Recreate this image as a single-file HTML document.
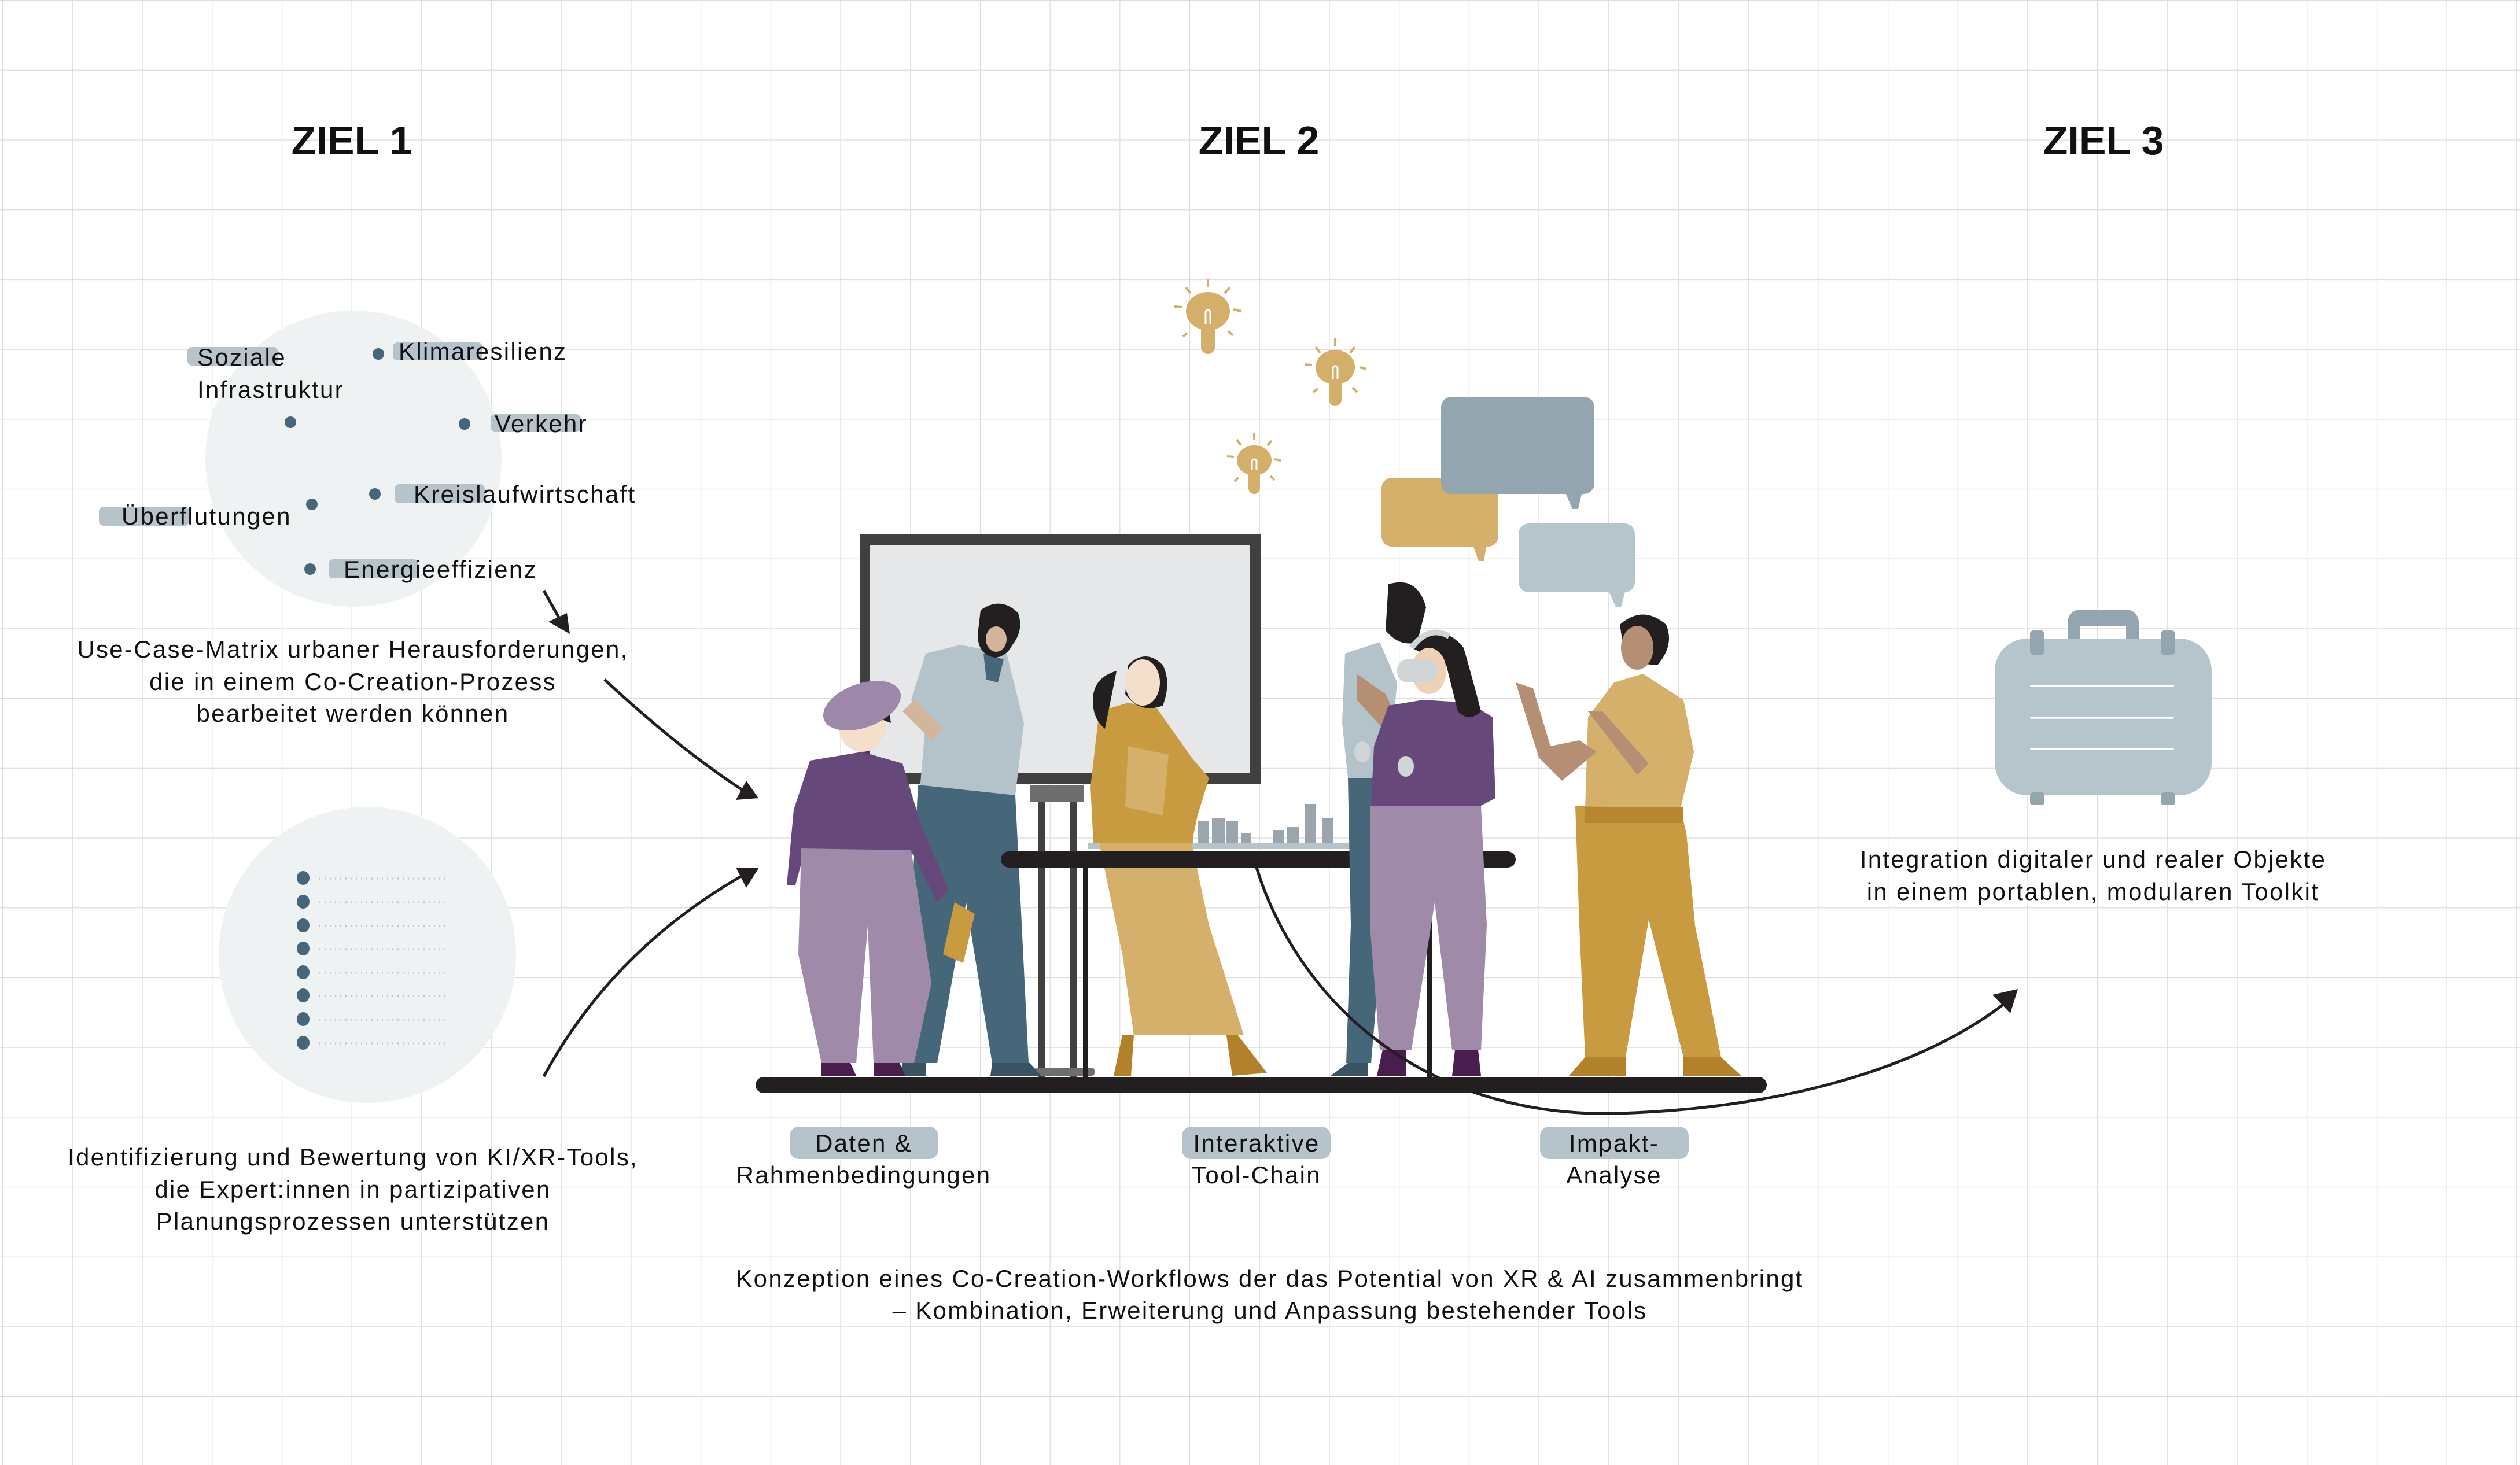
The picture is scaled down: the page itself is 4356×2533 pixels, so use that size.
<!DOCTYPE html>
<html><head><meta charset="utf-8"><style>
html,body{margin:0;padding:0;background:#fff}
svg{display:block}
text{font-family:"Liberation Sans",sans-serif;fill:#111}
.t{letter-spacing:2.3px}
</style></head><body>
<svg width="4356" height="2533" viewBox="0 0 4356 2533" xmlns="http://www.w3.org/2000/svg">
<defs>
<pattern id="g" x="4" y="0" width="120.7" height="120.7" patternUnits="userSpaceOnUse">
<path d="M0 0V120.7M0 0H120.7" stroke="#dcdcdc" stroke-width="2.5" fill="none"/>
</pattern>
</defs>
<rect width="4356" height="2533" fill="#fff"/>
<rect width="4356" height="2533" fill="url(#g)"/>

<!-- titles -->
<g font-weight="bold" font-size="70" text-anchor="middle">
<text x="608" y="267">ZIEL 1</text>
<text x="2176" y="267">ZIEL 2</text>
<text x="3636" y="267">ZIEL 3</text>
</g>

<!-- circle 1 -->
<circle cx="611" cy="793" r="256" fill="#eff2f3"/>
<g fill="#b6c3ca">
<rect x="324" y="600" width="156" height="32" rx="8"/>
<rect x="679" y="592" width="155" height="31" rx="8"/>
<rect x="848" y="716" width="156" height="31" rx="8"/>
<rect x="682" y="837" width="156" height="33" rx="8"/>
<rect x="171" y="876" width="156" height="33" rx="8"/>
<rect x="568" y="967" width="155" height="33" rx="8"/>
</g>
<g fill="#46667a">
<circle cx="654" cy="612" r="10"/>
<circle cx="502" cy="730" r="10"/>
<circle cx="803" cy="733" r="10"/>
<circle cx="648" cy="854" r="10"/>
<circle cx="539" cy="872" r="10"/>
<circle cx="536" cy="984" r="10"/>
</g>
<g font-size="42" class="t">
<text x="341" y="632">Soziale</text>
<text x="341" y="688">Infrastruktur</text>
<text x="689" y="622">Klimaresilienz</text>
<text x="855" y="747">Verkehr</text>
<text x="715" y="869">Kreislaufwirtschaft</text>
<text x="210" y="907">Überflutungen</text>
<text x="594" y="999">Energieeffizienz</text>
</g>
<line x1="940" y1="1021" x2="970" y2="1075" stroke="#231f20" stroke-width="5"/>
<polygon points="985,1096 948,1075 980,1060" fill="#231f20"/>

<g font-size="42" text-anchor="middle" class="t">
<text x="610" y="1137">Use-Case-Matrix urbaner Herausforderungen,</text>
<text x="610" y="1193">die in einem Co-Creation-Prozess</text>
<text x="610" y="1248">bearbeitet werden können</text>
</g>
<path d="M1045,1175 Q1180,1300 1290,1370" stroke="#231f20" stroke-width="5" fill="none"/>
<polygon points="1311,1380 1272,1383 1290,1350" fill="#231f20"/>

<!-- circle 2 -->
<ellipse cx="635" cy="1651" rx="257" ry="256" fill="#eff2f3"/>
<g fill="#46667a">
<ellipse cx="524" cy="1518" rx="11" ry="12"/>
<ellipse cx="524" cy="1559" rx="11" ry="12"/>
<ellipse cx="524" cy="1600" rx="11" ry="12"/>
<ellipse cx="524" cy="1640" rx="11" ry="12"/>
<ellipse cx="524" cy="1681" rx="11" ry="12"/>
<ellipse cx="524" cy="1721" rx="11" ry="12"/>
<ellipse cx="524" cy="1762" rx="11" ry="12"/>
<ellipse cx="524" cy="1803" rx="11" ry="12"/>
</g>
<g stroke="#b6c3ca" stroke-width="3" stroke-dasharray="2 7">
<line x1="552" y1="1519" x2="778" y2="1519"/>
<line x1="552" y1="1560" x2="778" y2="1560"/>
<line x1="552" y1="1601" x2="778" y2="1601"/>
<line x1="552" y1="1641" x2="778" y2="1641"/>
<line x1="552" y1="1682" x2="778" y2="1682"/>
<line x1="552" y1="1722" x2="778" y2="1722"/>
<line x1="552" y1="1763" x2="778" y2="1763"/>
<line x1="552" y1="1804" x2="778" y2="1804"/>
</g>
<path d="M940,1861 Q1060,1640 1290,1510" stroke="#231f20" stroke-width="5" fill="none"/>
<polygon points="1312,1500 1290,1535 1272,1500" fill="#231f20"/>
<g font-size="42" text-anchor="middle" class="t">
<text x="610" y="2015">Identifizierung und Bewertung von KI/XR-Tools,</text>
<text x="610" y="2071">die Expert:innen in partizipativen</text>
<text x="610" y="2126">Planungsprozessen unterstützen</text>
</g>

<!-- bulbs -->
<g fill="#d4af6a">
<ellipse cx="2088" cy="538" rx="38" ry="33"/><rect x="2076" y="555" width="24" height="57" rx="12"/>
<ellipse cx="2308" cy="635" rx="34" ry="30"/><rect x="2297" y="650" width="22" height="52" rx="11"/>
<ellipse cx="2168" cy="796" rx="30" ry="26"/><rect x="2158" y="808" width="20" height="46" rx="10"/>
</g>
<g stroke="#fff" stroke-width="3" fill="none">
<path d="M2084,560V540a4,4 0 0 1 8,0V560"/><path d="M2304,655V637a4,4 0 0 1 8,0V655"/><path d="M2164,812V798a4,4 0 0 1 8,0V812"/>
</g>
<g stroke="#d4af6a" stroke-width="4">
<line x1="2088" y1="482" x2="2088" y2="496"/><line x1="2050" y1="497" x2="2058" y2="507"/><line x1="2126" y1="497" x2="2117" y2="507"/>
<line x1="2030" y1="530" x2="2044" y2="531"/><line x1="2132" y1="535" x2="2146" y2="538"/><line x1="2052" y1="576" x2="2045" y2="582"/><line x1="2123" y1="572" x2="2131" y2="580"/>
<line x1="2308" y1="585" x2="2308" y2="598"/><line x1="2274" y1="600" x2="2282" y2="610"/><line x1="2342" y1="600" x2="2334" y2="610"/>
<line x1="2255" y1="630" x2="2268" y2="631"/><line x1="2350" y1="635" x2="2362" y2="638"/><line x1="2278" y1="672" x2="2270" y2="678"/><line x1="2338" y1="670" x2="2346" y2="678"/>
<line x1="2168" y1="748" x2="2168" y2="760"/><line x1="2138" y1="760" x2="2145" y2="770"/><line x1="2198" y1="762" x2="2191" y2="770"/>
<line x1="2121" y1="789" x2="2133" y2="790"/><line x1="2203" y1="794" x2="2214" y2="796"/><line x1="2141" y1="826" x2="2134" y2="832"/><line x1="2196" y1="823" x2="2203" y2="830"/>
</g>
<!-- speech bubbles -->
<rect x="2388" y="826" width="202" height="119" rx="18" fill="#d4b06a"/>
<polygon points="2545,940 2570,940 2565,970 2556,970" fill="#d4b06a"/>
<rect x="2491" y="686" width="265" height="168" rx="18" fill="#93a5af"/>
<polygon points="2705,850 2735,850 2728,880 2718,880" fill="#93a5af"/>
<rect x="2625" y="905" width="201" height="119" rx="18" fill="#b6c4cb"/>
<polygon points="2780,1020 2810,1020 2802,1050 2793,1050" fill="#b6c4cb"/>

<!-- board -->
<rect x="1495" y="933" width="675" height="413" fill="#e5e7e9" stroke="#404040" stroke-width="18"/>
<rect x="1780" y="1357" width="94" height="30" fill="#6d6e70"/>
<rect x="1794" y="1387" width="13" height="476" fill="#404040"/>
<rect x="1849" y="1387" width="13" height="476" fill="#404040"/>
<rect x="1788" y="1846" width="104" height="14" rx="5" fill="#6d6e70"/>

<!-- person 2: bearded man -->
<polygon points="1600,1130 1660,1115 1740,1130 1770,1250 1755,1375 1590,1365 1600,1250 1575,1210" fill="#b4c3ca"/>
<polygon points="1587,1357 1755,1375 1778,1838 1715,1838 1670,1560 1620,1838 1560,1838" fill="#466679"/>
<polygon points="1700,1130 1735,1140 1725,1180 1705,1175" fill="#46667a"/>
<path d="M1695,1055 q35,-25 65,5 q10,30 -10,55 q-10,20 -30,22 q-30,-5 -30,-40z" fill="#231f20"/>
<ellipse cx="1722" cy="1105" rx="18" ry="22" fill="#d2b59b"/>
<path d="M1580,1210 L1630,1260 L1610,1280 L1560,1230z" fill="#d2b59b"/>
<polygon points="1715,1838 1780,1838 1800,1860 1712,1860" fill="#3a5363"/>
<polygon points="1560,1838 1600,1838 1600,1860 1555,1860" fill="#3a5363"/>

<!-- person 1: hat woman -->
<polygon points="1400,1315 1490,1300 1560,1320 1590,1420 1640,1540 1620,1560 1575,1470 1580,1477 1390,1475 1375,1530 1360,1530 1372,1400" fill="#66487a"/>
<polygon points="1385,1467 1575,1470 1610,1700 1580,1838 1510,1838 1500,1600 1480,1838 1420,1838 1380,1650" fill="#a08aaa"/>
<polygon points="1420,1838 1470,1838 1480,1860 1420,1860" fill="#4a1e4f"/>
<polygon points="1510,1838 1555,1838 1565,1860 1510,1860" fill="#4a1e4f"/>
<ellipse cx="1490" cy="1250" rx="42" ry="50" fill="#f4dfcb"/>
<path d="M1455,1230 q30,-40 80,-15 l5,35 q-30,-10 -50,-30 q-10,15 -35,25z" fill="#231f20"/>
<ellipse cx="1490" cy="1220" rx="70" ry="38" fill="#9c88a8" transform="rotate(-20 1490 1220)"/>
<polygon points="1650,1560 1685,1580 1665,1665 1630,1650" fill="#c89b40"/>

<!-- table -->
<rect x="1880" y="1458" width="600" height="10" fill="#b6c3ca"/>
<g fill="#9aa5ad">
<rect x="2040" y="1390" width="22" height="68"/><rect x="2070" y="1420" width="20" height="38"/><rect x="2095" y="1415" width="22" height="43"/><rect x="2120" y="1420" width="20" height="38"/><rect x="2145" y="1440" width="18" height="18"/>
<rect x="2200" y="1435" width="20" height="23"/><rect x="2225" y="1430" width="20" height="28"/><rect x="2255" y="1390" width="20" height="68"/><rect x="2285" y="1415" width="20" height="43"/>
<rect x="1985" y="1440" width="16" height="18"/><rect x="2010" y="1430" width="18" height="28"/>
</g>
<!-- person 3 -->
<polygon points="1900,1230 1950,1215 2000,1225 2060,1310 2090,1345 2070,1410 2060,1458 1890,1458 1885,1360" fill="#c89b40"/>
<polygon points="1900,1458 2060,1458 2090,1600 2150,1790 1960,1790 1940,1650" fill="#d4b06a"/>
<polygon points="1950,1290 2020,1305 2010,1410 1945,1395" fill="#d4b06a"/>
<path d="M1950,1150 q30,-30 60,0 q15,30 0,70 q-40,15 -65,-20z" fill="#231f20"/>
<path d="M1890,1200 q5,-30 40,-40 l-20,100 q-25,-20 -20,-60z" fill="#231f20"/>
<ellipse cx="1975" cy="1180" rx="30" ry="40" fill="#f4dfcb"/>
<polygon points="1940,1790 1960,1790 1955,1860 1925,1860" fill="#b2822b"/>
<polygon points="2120,1790 2140,1790 2190,1855 2130,1860" fill="#b2822b"/>

<rect x="1730" y="1472" width="890" height="28" rx="14" fill="#231f20"/>
<rect x="1872" y="1500" width="9" height="363" fill="#231f20"/>
<rect x="2467" y="1500" width="9" height="363" fill="#231f20"/>

<!-- person 4: back man -->
<polygon points="2325,1130 2385,1110 2415,1180 2400,1345 2330,1345 2320,1250" fill="#b4c3ca"/>
<polygon points="2330,1345 2400,1345 2390,1600 2370,1838 2327,1838 2335,1600" fill="#466679"/>
<path d="M2400,1010 q50,-15 65,40 l-15,60 q-30,10 -55,-20z" fill="#231f20"/>
<polygon points="2345,1165 2395,1200 2420,1250 2400,1270 2345,1210" fill="#b48f74"/>
<polygon points="2330,1838 2365,1838 2365,1860 2300,1860" fill="#3a5363"/>
<!-- person 5: VR woman -->
<polygon points="2400,1220 2460,1210 2540,1215 2580,1240 2585,1380 2560,1393 2370,1393 2375,1290" fill="#67487a"/>
<polygon points="2368,1393 2560,1393 2570,1600 2560,1815 2510,1815 2480,1560 2440,1815 2385,1815 2368,1600" fill="#a08aaa"/>
<path d="M2440,1120 q50,-50 90,0 q20,70 30,110 q-20,20 -40,0 l-20,-80z" fill="#231f20"/>
<ellipse cx="2470" cy="1160" rx="30" ry="40" fill="#f1d1b5"/>
<rect x="2415" y="1140" width="70" height="40" rx="18" fill="#d0d5d8"/>
<path d="M2440,1120 q30,-40 65,-20" stroke="#d0d5d8" stroke-width="10" fill="none"/>
<polygon points="2390,1815 2430,1815 2430,1860 2380,1860" fill="#4a1e4f"/>
<polygon points="2515,1815 2555,1815 2560,1860 2510,1860" fill="#4a1e4f"/>
<ellipse cx="2355" cy="1300" rx="14" ry="18" fill="#d0d5d8"/>
<ellipse cx="2430" cy="1325" rx="14" ry="18" fill="#d0d5d8"/>
<!-- person 6 -->
<polygon points="2790,1180 2840,1165 2910,1210 2928,1300 2905,1398 2740,1398 2745,1240" fill="#d4b06a"/>
<polygon points="2723,1393 2905,1400 2915,1440 2930,1600 2975,1828 2910,1828 2850,1590 2810,1828 2740,1828 2730,1600" fill="#c89b40"/>
<rect x="2740" y="1395" width="170" height="28" fill="#b8862f"/>
<path d="M2800,1080 q40,-35 80,0 q15,35 -15,70 l-55,-5z" fill="#231f20"/>
<ellipse cx="2830" cy="1120" rx="28" ry="38" fill="#b48f74"/>
<polygon points="2620,1180 2650,1190 2680,1290 2730,1280 2760,1300 2700,1350 2660,1310" fill="#b48f74"/>
<polygon points="2745,1230 2770,1230 2850,1320 2830,1340" fill="#b48f74"/>
<polygon points="2740,1828 2810,1828 2810,1860 2712,1860" fill="#b2822b"/>
<polygon points="2910,1828 2975,1828 3010,1860 2910,1860" fill="#b2822b"/>

<!-- floor -->
<rect x="1306" y="1862" width="1748" height="28" rx="14" fill="#231f20"/>

<!-- curve arrow to Ziel 3 -->
<path d="M2172,1500 C2240,1720 2450,1935 2800,1925 C3100,1915 3330,1840 3465,1735" stroke="#231f20" stroke-width="5" fill="none"/>
<polygon points="3488,1710 3444,1720 3475,1752" fill="#231f20"/>

<!-- labels -->
<g fill="#b6c3ca">
<rect x="1365" y="1948" width="257" height="56" rx="16"/>
<rect x="2043" y="1948" width="257" height="56" rx="16"/>
<rect x="2662" y="1948" width="257" height="56" rx="16"/>
</g>
<g font-size="42" text-anchor="middle" class="t">
<text x="1493" y="1991">Daten &amp;</text>
<text x="1493" y="2046">Rahmenbedingungen</text>
<text x="2172" y="1991">Interaktive</text>
<text x="2172" y="2046">Tool-Chain</text>
<text x="2790" y="1991">Impakt-</text>
<text x="2790" y="2046">Analyse</text>
<text x="2195" y="2225">Konzeption eines Co-Creation-Workflows der das Potential von XR &amp; AI zusammenbringt</text>
<text x="2195" y="2280">– Kombination, Erweiterung und Anpassung bestehender Tools</text>
</g>

<!-- suitcase -->
<path d="M3574,1104V1076a22,22 0 0 1 22,-22H3675a22,22 0 0 1 22,22V1104H3675V1082H3596V1104z" fill="#93a5af"/>
<rect x="3448" y="1104" width="375" height="271" rx="56" fill="#b6c4cb"/>
<g fill="#93a5af">
<rect x="3509" y="1090" width="25" height="42" rx="6"/><rect x="3735" y="1090" width="25" height="42" rx="6"/>
<rect x="3509" y="1370" width="25" height="22" rx="5"/><rect x="3735" y="1370" width="25" height="22" rx="5"/>
</g>
<g stroke="#fff" stroke-width="3.5" stroke-linecap="round">
<line x1="3511" y1="1186" x2="3756" y2="1186"/><line x1="3511" y1="1241" x2="3756" y2="1241"/><line x1="3511" y1="1295" x2="3756" y2="1295"/>
</g>
<g font-size="42" text-anchor="middle" class="t">
<text x="3618" y="1500">Integration digitaler und realer Objekte</text>
<text x="3618" y="1556">in einem portablen, modularen Toolkit</text>
</g>
</svg>
</body></html>
